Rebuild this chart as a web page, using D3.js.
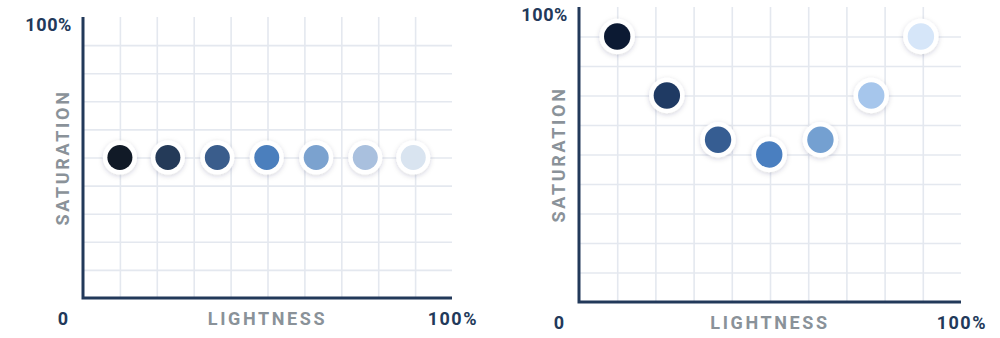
<!DOCTYPE html>
<html>
<head>
<meta charset="utf-8">
<script src="https://cdn.jsdelivr.net/npm/d3@7"></script>
<style>
body{margin:0;background:#fff;}
text{font-family:Roboto, "Open Sans", sans-serif;font-weight:700;}
</style>
</head>
<body>
<svg id="svg_canvas" width="1000" height="338"></svg>
<script>
// values (lightness / saturation in %)
var lightness = [10, 23, 36.4, 49.8, 63.2, 76.5, 89.5];
var left_saturation = [50, 50, 50, 50, 50, 50, 50];
var right_saturation = [90, 70, 55, 50, 55, 70, 90];
var left_colors = ["#111a27", "#243a58", "#3a5d8c", "#4b7fbd", "#7ba2cf", "#a9c0de", "#d9e4f0"];
var right_colors = ["#0c1a33", "#1f3a63", "#365d92", "#4a7fc0", "#74a0d1", "#a6c6ec", "#d6e6f9"];
var grid_ticks = [10, 20, 30, 40, 50, 60, 70, 80, 90];
var x_label = "LIGHTNESS";
var y_label = "SATURATION";

var svg = d3.select("#svg_canvas");

var defs = svg.append("defs");
var shadow = defs.append("filter").attr("id", "dot_shadow")
	.attr("x", "-50%").attr("y", "-50%").attr("width", "200%").attr("height", "200%");
shadow.append("feDropShadow")
	.attr("dx", 0).attr("dy", 1.5).attr("stdDeviation", 2.5)
	.attr("flood-color", "#1d2b45").attr("flood-opacity", 0.18);

function draw_chart(left_x, right_x, top_y, bottom_y, sat, colors, r){

	var x = d3.scaleLinear().domain([0, 100]).range([left_x, right_x]);
	var y = d3.scaleLinear().domain([0, 100]).range([bottom_y, top_y]);
	var g = svg.append("g");

	// grid
	g.append("g")
		.attr("transform", "translate(0," + bottom_y + ")")
		.call(d3.axisBottom(x).tickValues(grid_ticks).tickSize(-(bottom_y - top_y)).tickFormat(""))
		.call(function(a){ a.select(".domain").remove(); a.selectAll("line").attr("stroke", "#e4e8ef").attr("stroke-width", 1.6); });
	g.append("g")
		.attr("transform", "translate(" + left_x + ",0)")
		.call(d3.axisLeft(y).tickValues(grid_ticks).tickSize(-(right_x - left_x)).tickFormat(""))
		.call(function(a){ a.select(".domain").remove(); a.selectAll("line").attr("stroke", "#e4e8ef").attr("stroke-width", 1.6); });

	// axis lines
	g.append("path")
		.attr("d", "M" + x(0) + "," + y(100) + "V" + y(0) + "H" + x(100))
		.attr("fill", "none").attr("stroke", "#22395a").attr("stroke-width", 3);

	// labels
	g.append("text").attr("x", x(0) - 11).attr("y", y(100) + 14)
		.attr("text-anchor", "end").attr("fill", "#22395a")
		.style("font-size", "18px").style("letter-spacing", "0.6px").text("100%");
	g.append("text").attr("x", x(0) - 20).attr("y", y(0) + 27)
		.attr("text-anchor", "middle").attr("fill", "#22395a")
		.style("font-size", "18px").text("0");
	g.append("text").attr("x", x(100) + 26).attr("y", y(0) + 27)
		.attr("text-anchor", "end").attr("fill", "#22395a")
		.style("font-size", "18px").style("letter-spacing", "1.5px").text("100%");
	g.append("text").attr("x", x(50)).attr("y", y(0) + 27)
		.attr("text-anchor", "middle").attr("fill", "#8a9299")
		.style("font-size", "18px").style("letter-spacing", "2.6px").text(x_label);
	g.append("text")
		.attr("transform", "translate(" + (x(0) - 14) + "," + y(50) + ") rotate(-90)")
		.attr("text-anchor", "middle").attr("fill", "#8a9299")
		.style("font-size", "18px").style("letter-spacing", "2.7px").text(y_label);

	// dots
	var dots = g.selectAll("g.dot").data(lightness).enter().append("g").attr("class", "dot");
	dots.append("circle")
		.attr("cx", function(d){ return x(d); })
		.attr("cy", function(d, i){ return y(sat[i]); })
		.attr("r", r + 4.5)
		.attr("fill", "#fff")
		.attr("filter", "url(#dot_shadow)");
	dots.append("circle")
		.attr("cx", function(d){ return x(d); })
		.attr("cy", function(d, i){ return y(sat[i]); })
		.attr("r", r)
		.attr("fill", function(d, i){ return colors[i]; });
}

draw_chart(83, 452, 17, 298, left_saturation, left_colors, 12.5);
draw_chart(579, 961, 7, 302, right_saturation, right_colors, 13.2);
</script>
</body>
</html>
